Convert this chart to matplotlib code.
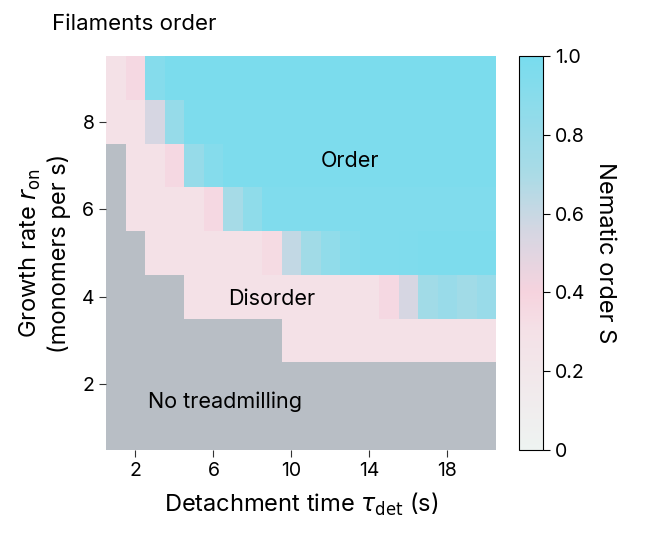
import numpy as np
import matplotlib
matplotlib.use("Agg")
import matplotlib.pyplot as plt
from matplotlib.colors import LinearSegmentedColormap

plt.rcParams["font.family"] = "Inter"

tau_det = list(range(1, 21))
r_on = list(range(1, 10))
N = np.nan
P = 0.3
# rows: r_on = 1 .. 9 ; columns tau_det = 1 .. 20
S_r1 = [N]*20
S_r2 = [N]*20
S_r3 = [N]*9 + [P]*11
S_r4 = [N]*4 + [P]*10 + [0.36, 0.55, 0.75, 0.8, 0.75, 0.8]
S_r5 = [N, N] + [P]*6 + [0.34, 0.62, 0.75, 0.85, 0.92, 0.95, 0.95, 0.96, 0.97, 0.97, 0.97, 0.97]
S_r6 = [N] + [P]*4 + [0.36, 0.72, 0.86] + [0.95]*12
S_r7 = [N, P, P, 0.36, 0.82, 0.92] + [0.97]*14
S_r8 = [P, P, 0.55, 0.82] + [0.97]*16
S_r9 = [P, 0.36, 0.92] + [0.98]*17
S = np.array([S_r1, S_r2, S_r3, S_r4, S_r5, S_r6, S_r7, S_r8, S_r9])

cmap = LinearSegmentedColormap.from_list("nem", [
    (0.0, "#eef3f1"), (0.3, "#f4e1e7"), (0.4, "#f6d3de"),
    (0.55, "#d6d6e2"), (0.7, "#aadbe6"), (1.0, "#78dcee")])
cmap.set_bad("#b8bec5")

fig = plt.figure(figsize=(6.47, 5.44), dpi=100)
ax = fig.add_axes([0.164, 0.173, 0.603, 0.724])
m = ax.pcolormesh(tau_det, r_on, np.ma.masked_invalid(S), cmap=cmap,
                  vmin=0, vmax=1, shading="nearest")
ax.set_xlim(0.5, 20.5)
ax.set_ylim(0.5, 9.5)
ax.set_xticks([2, 6, 10, 14, 18])
ax.set_yticks([2, 4, 6, 8])
for s in ax.spines.values():
    s.set_visible(False)
ax.tick_params(labelsize=14, length=5, width=0.8, color="#333333")
ax.set_xlabel(r"Detachment time $\tau_\mathrm{det}$ (s)", fontsize=17, labelpad=8)
ax.set_ylabel("Growth rate $r_\\mathrm{on}$\n(monomers per s)", fontsize=17, labelpad=8)
ax.text(13.0, 7.1, "Order", fontsize=15.5, ha="center", va="center")
ax.text(9.0, 3.95, "Disorder", fontsize=15.5, ha="center", va="center")
ax.text(6.6, 1.6, "No treadmilling", fontsize=15.5, ha="center", va="center")
fig.text(0.08, 0.955, "Filaments order", fontsize=16, ha="left", va="center")

cax = fig.add_axes([0.802, 0.173, 0.037, 0.724])
cb = fig.colorbar(m, cax=cax, ticks=[0, 0.2, 0.4, 0.6, 0.8, 1.0])
cb.ax.set_yticklabels(["0", "0.2", "0.4", "0.6", "0.8", "1.0"])
cb.ax.tick_params(labelsize=14, length=5, width=0.8)
cb.outline.set_linewidth(0.8)
cb.set_label("Nematic order S", fontsize=17, rotation=270, labelpad=22)

fig.savefig("out.png", dpi=100)
